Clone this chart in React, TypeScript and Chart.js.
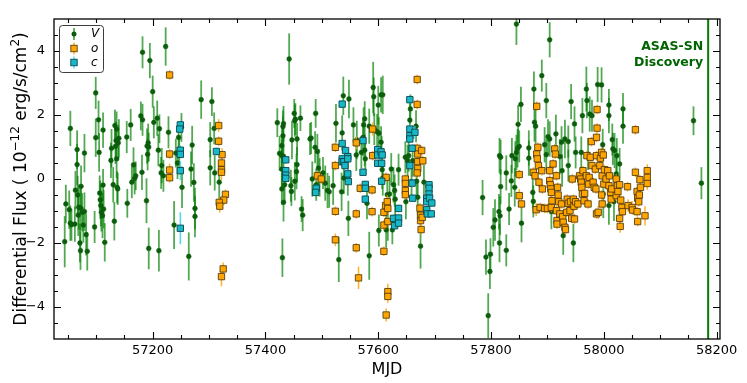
import React, { useEffect, useRef } from "react";
import { Chart, registerables } from "chart.js";

Chart.register(...registerables);

// ---------- V band (ASAS-SN V) ----------
const vMjd = [
  57046, 57044, 57054, 57052, 57054, 57056, 57062, 57063, 57066, 57066,
  57067, 57068, 57069, 57071, 57072, 57073, 57072, 57075, 57077, 57079,
  57079, 57082, 57084, 57097, 57099, 57099, 57104, 57105, 57106, 57107,
  57108, 57109, 57111, 57112, 57112, 57113, 57115, 57126, 57127, 57130,
  57132, 57133, 57134, 57135, 57136, 57136, 57137, 57138, 57139, 57140,
  57154, 57155, 57161, 57163, 57166, 57168, 57170, 57181, 57179, 57182,
  57182, 57190, 57191, 57192, 57193, 57189, 57193, 57195, 57200, 57202,
  57208, 57210, 57211, 57212, 57215, 57216, 57219, 57223, 57228, 57238,
  57241, 57244, 57246, 57247, 57251, 57252, 57264,
  57268, 57270, 57273, 57275, 57275, 57286, 57305, 57302, 57302, 57309,
  57310, 57318, 57421, 57425, 57429, 57429, 57429, 57429, 57430, 57431,
  57431, 57432, 57432, 57432, 57434, 57442, 57445, 57446, 57447, 57451,
  57452, 57452, 57453, 57455, 57456, 57456, 57462, 57464, 57466, 57479,
  57481, 57483, 57488, 57489, 57490, 57492, 57494, 57496, 57502, 57506,
  57510,
  57513, 57520, 57525, 57530, 57535, 57536, 57538, 57539, 57546, 57548,
  57547, 57556, 57561, 57562, 57570, 57573, 57574, 57576, 57576, 57577,
  57580, 57584, 57584, 57591, 57592, 57593, 57598, 57600, 57601, 57601,
  57605, 57605, 57606, 57607, 57608, 57608, 57614, 57616, 57617, 57620,
  57623, 57625, 57627, 57629, 57630, 57636, 57648, 57649, 57652, 57654,
  57656, 57657, 57659, 57661, 57667, 57668, 57670, 57675, 57681,
  57785, 57791, 57795, 57798, 57799, 57804, 57807, 57814, 57815, 57815,
  57816, 57817, 57817, 57827, 57827, 57832, 57836, 57837, 57842, 57843,
  57845, 57845, 57847, 57848, 57850, 57853, 57854, 57867, 57867, 57874,
  57875, 57876, 57877, 57879, 57890, 57895, 57898, 57898, 57901, 57904,
  57904, 57907, 57915, 57922, 57925, 57926, 57928, 57931, 57937, 57937,
  57942, 57946, 57948, 57950, 57960, 57962, 57969, 57970, 57972, 57975,
  57979, 57989,
  57996, 57998, 57999, 58009, 58009, 58009, 58015, 58016, 58018, 58019,
  58022, 58023, 58028, 58034, 58034, 58159, 58173,
];
const vFlux = [
  -0.78, -1.96, 1.58, -0.96, -1.38, -1.43, -1.41, -0.35, 0.45, 0.92,
  -0.5, -1.13, -0.88, -2.0, -2.24, -0.23, -0.91, -1.04, -1.44, 0.81,
  -1.02, -1.74, -2.26, -1.5, 2.69, 1.29, 1.85, 0.83, -0.44, -0.65,
  -0.83, -1.04, -1.15, 1.53, -0.19, -0.94, -1.98, 0.58, 0.96, -0.18,
  -1.32, 1.67, 1.02, 1.2, 1.56, 0.63, -0.26, -0.31, 1.13, 1.27,
  1.31, -0.76, 1.69, -0.1, 0.44, 0.02, 0.1, 0.21, 1.97, 3.96,
  1.85, 1.03, 0.77, 1.13, 1.0, -0.68, -2.17, 3.7, 2.73, 1.77,
  1.9, 0.9, -2.24, 1.57, 0.19, 0.42, 0.1, 4.14, 1.46, -1.44,
  0.81, 0.5, 1.3, 0.73, 1.61, -0.26, -2.42,
  0.31, 1.06, -0.11, -0.92, -1.17, 2.48, 2.42, 1.23, 0.35, 1.58,
  0.19, -0.1, 1.76, 0.8, 0.73, -0.31, 1.04, 0.31, -2.46, 1.35,
  1.64, 0.71, 1.73, -0.73, -0.18, 3.75, -0.21, -0.39, 1.22, 2.05,
  -0.07, 1.82, 1.87, 0.23, 1.25, 0.45, 1.9, -0.94, -1.13, 1.25,
  1.28, 0.0, 0.99, 2.05, -0.18, 0.86, 0.34, 0.05, 0.19, -0.13,
  -0.36,
  -0.4, -0.21, 1.74, -2.52, -0.4, 1.44, 2.6, 0.03, 0.03, 2.5,
  -1.23, 1.69, 0.75, 1.22, 0.83, 1.3, 1.69, 1.88, 0.9, 0.63,
  -0.76, 1.65, -2.4, 2.86, 2.57, 1.56, 1.48, 2.31, 1.43, -1.61,
  2.63, 1.15, 0.8, 0.29, 2.63, 0.03, -1.59, -0.49, -1.33, -0.47,
  0.31, -1.59, -0.18, -0.36, -0.63, 0.29, 0.68, -0.71, 0.57, 0.73,
  1.84, 2.19, -0.08, 0.57, 1.65, -0.07, -0.57, -2.1, -0.1,
  -0.58, -2.44, -4.27, -2.89, -2.35, -1.51, -1.28, -1.02, -2.0, 0.73,
  -1.15, -0.24, 0.68, 0.19, -2.23, -0.94, -0.06, 0.73, -0.26, 0.63,
  0.83, 4.84, 0.96, 1.71, 1.02, 2.33, -1.38, 0.97, 0.65, -0.42,
  -0.7, 2.81, 1.77, 1.65, 3.23, 1.07, 2.45, 0.76, 1.32, 1.25,
  4.35, -1.02, 1.41, 0.7, 1.15, 0.26, -1.77, 1.25, 1.17, 0.42,
  2.42, -2.0, 1.72, 0.83, 0.83, 1.98, 2.81, 2.45, 0.78, 2.03,
  1.98, 2.95,
  2.94, 1.07, -0.47, 2.31, 1.98, -0.83, 1.23, 0.94, -0.71, 0.89,
  0.16, 0.73, 0.47, 2.19, 1.65, 1.82, -0.13,
];
const vErr = [
  0.6, 0.8, 0.55, 0.6, 0.55, 0.5, 0.55, 0.6, 0.65, 0.6,
  0.6, 0.65, 0.7, 0.6, 0.6, 0.65, 0.7, 0.6, 0.55, 0.6,
  0.6, 0.65, 0.6, 0.5, 0.5, 0.6, 0.6, 0.6, 0.55, 0.6,
  0.65, 0.6, 0.7, 0.55, 0.5, 0.6, 0.6, 0.55, 0.6, 0.55,
  0.6, 0.5, 0.55, 0.6, 0.55, 0.6, 0.5, 0.5, 0.55, 0.6,
  0.5, 0.45, 0.5, 0.5, 0.55, 0.5, 0.45, 0.55, 0.45, 0.5,
  0.5, 0.55, 0.5, 0.6, 0.45, 0.7, 0.65, 0.55, 0.5, 0.5,
  0.55, 0.5, 0.65, 0.45, 0.5, 0.55, 0.5, 0.6, 0.5, 0.75,
  0.45, 0.5, 0.5, 0.55, 0.45, 0.65, 0.75,
  0.55, 0.6, 0.6, 0.65, 0.65, 0.6, 0.45, 0.55, 0.55, 0.5,
  0.55, 0.6, 0.45, 0.55, 0.5, 0.5, 0.55, 0.6, 0.6, 0.6,
  0.5, 0.6, 0.55, 0.6, 0.55, 0.8, 0.5, 0.45, 0.6, 0.45,
  0.6, 0.5, 0.5, 0.55, 0.5, 0.55, 0.4, 0.4, 0.5, 0.5,
  0.5, 0.55, 0.5, 0.45, 0.5, 0.55, 0.6, 0.6, 0.5, 0.55,
  0.55,
  0.5, 0.6, 0.6, 0.7, 0.6, 0.55, 0.6, 0.5, 0.55, 0.6,
  0.55, 0.55, 0.5, 0.6, 0.5, 0.6, 0.55, 0.55, 0.5, 0.5,
  0.5, 0.55, 0.75, 0.8, 0.6, 0.5, 0.55, 0.6, 0.5, 0.5,
  0.55, 0.5, 0.55, 0.6, 0.6, 0.55, 0.55, 0.6, 0.6, 0.5,
  0.5, 0.45, 0.55, 0.5, 0.5, 0.5, 0.5, 0.55, 0.5, 0.5,
  0.55, 0.45, 0.5, 0.5, 0.5, 0.5, 0.55, 0.7, 0.55,
  0.55, 0.55, 0.7, 0.55, 0.5, 0.6, 0.65, 0.55, 0.6, 0.55,
  0.6, 0.55, 0.55, 0.55, 0.5, 0.5, 0.5, 0.55, 0.6, 0.55,
  0.55, 0.65, 0.6, 0.6, 0.5, 0.55, 0.6, 0.55, 0.55, 0.5,
  0.5, 0.55, 0.6, 0.55, 0.5, 0.55, 0.55, 0.5, 0.55, 0.55,
  0.55, 0.55, 0.6, 0.55, 0.5, 0.5, 0.6, 0.6, 0.5, 0.5,
  0.55, 0.6, 0.55, 0.5, 0.5, 0.55, 0.7, 0.55, 0.5, 0.55,
  0.5, 0.55,
  0.55, 0.5, 0.75, 0.5, 0.55, 0.6, 0.5, 0.5, 0.6, 0.55,
  0.55, 0.55, 0.5, 0.5, 0.55, 0.45, 0.5,
];

// ---------- ATLAS o ----------
const oMjd = [
  57230, 57230, 57230, 57230,
  57317, 57317, 57323, 57322, 57322, 57322, 57329, 57326, 57318, 57319, 57325, 57322,
  57492, 57499,
  57524, 57524, 57524, 57524, 57561, 57561, 57561, 57565, 57568, 57590,
  57590, 57589, 57589, 57610, 57610, 57610, 57613, 57614, 57616, 57617,
  57617, 57617, 57617, 57614, 57648, 57648, 57648, 57648, 57669, 57669,
  57669, 57670, 57670, 57670, 57669, 57677, 57679, 57674, 57675, 57675, 57676, 57678,
  57850, 57850, 57854, 57875, 57878, 57880, 57881, 57881, 57882, 57883,
  57884, 57885, 57887, 57890, 57891, 57895, 57900, 57904, 57904, 57905,
  57906, 57907, 57907, 57908, 57910, 57913, 57914, 57916, 57916, 57917,
  57917, 57918, 57919, 57920, 57922, 57925, 57927, 57928, 57931, 57932,
  57934, 57935, 57937, 57940, 57941, 57943, 57944, 57946, 57947, 57948,
  57950, 57954, 57957, 57959, 57960, 57961, 57962, 57963, 57965, 57966,
  57969, 57970, 57972, 57973, 57974, 57976, 57978, 57979, 57981, 57983,
  57985, 57986, 57987, 57987, 57987, 57988,
  57988, 57990, 57993, 57994, 57996, 57996, 57997, 57997, 57999, 58000,
  58001, 58004, 58007, 58009, 58010, 58012, 58013, 58014, 58022, 58022,
  58024, 58025, 58028, 58028, 58029, 58030, 58032, 58033, 58042, 58043,
  58050, 58051, 58056, 58056, 58059, 58059, 58060, 58060, 58062, 58063,
  58064, 58065, 58073, 58077, 58077, 58077,
];
const oFlux = [
  3.25, 0.78, 0.28, 0.04,
  1.67, 1.18, 0.76, 0.5, 0.29, 0.21, -0.48, -0.66, -0.73, -0.85, -2.81, -3.05,
  0.1, 0.0,
  0.99, 0.42, -1.01, -1.9, 1.13, -1.09, -2.15, -3.09, -0.29, 1.56,
  0.73, -0.34, -1.02, -1.04, -1.44, -2.26, -0.83, 0.05, -0.71, -0.92,
  -1.33, -3.52, -3.67, -4.25, 0.0, -0.14, -0.36, -0.49, 3.11, 2.33,
  0.96, 0.78, 0.54, 0.33, 0.19, 0.89, 0.57, -0.91, -1.13, -1.3, -1.58, -1.2,
  0.14, -0.52, -0.78, 0.21, 0.1, -0.96, 0.78, 2.27, 0.63, 0.99,
  0.42, -0.1, -0.89, 0.26, -0.31, -0.92, -0.92, 0.26, -0.05, -0.18,
  -0.31, -0.42, -0.89, -0.68, 0.47, 0.94, 0.78, 0.1, -0.99, -1.3,
  -1.41, -0.26, -0.5, -0.71, -1.09, -0.78, -1.18, -1.35, -1.51, -1.58,
  -1.04, -0.63, -0.76, -0.99, -0.71, -1.23, 0.0, -0.63, -0.85, -1.25,
  -0.71, -0.78, 0.1, 0.0, -0.1, -0.26, -0.47, 0.26, -0.68, -0.45,
  0.1, 0.73, -0.78, -0.16, 0.05, 0.68, 1.17, 0.42, -0.1, -0.26,
  0.31, -0.31, 0.73, -1.09, 1.3, 2.17,
  1.59, -1.04, 0.42, 0.65, 0.83, -0.5, 0.1, -0.78, 0.75, -0.16,
  0.29, 0.0, 0.26, -0.21, 0.1, -0.42, -0.63, -0.31, 0.0, -0.52,
  -0.21, -0.39, -0.18, -1.23, -1.48, -0.66, -0.89, -1.02, -0.24, -0.83,
  -0.89, -0.97, 1.54, 0.21, -0.39, -1.02, -1.33, -0.6, -0.71, -0.5,
  -0.02, -0.26, -1.15, 0.26, 0.05, -0.14,
];
const oErr = [
  0.15, 0.15, 0.2, 0.15,
  0.2, 0.15, 0.2, 0.35, 0.2, 0.25, 0.15, 0.15, 0.15, 0.2, 0.2, 0.3,
  0.15, 0.15,
  0.15, 0.15, 0.15, 0.2, 0.2, 0.15, 0.15, 0.35, 0.15, 0.2,
  0.15, 0.15, 0.15, 0.15, 0.15, 0.15, 0.15, 0.15, 0.2, 0.2,
  0.15, 0.25, 0.2, 0.2, 0.15, 0.15, 0.15, 0.15, 0.15, 0.15,
  0.15, 0.15, 0.2, 0.2, 0.15, 0.15, 0.15, 0.15, 0.15, 0.15, 0.15, 0.15,
  0.15, 0.2, 0.15, 0.15, 0.15, 0.2, 0.15, 0.15, 0.15, 0.15,
  0.15, 0.15, 0.15, 0.15, 0.15, 0.15, 0.15, 0.15, 0.15, 0.15,
  0.15, 0.15, 0.15, 0.15, 0.15, 0.15, 0.15, 0.15, 0.15, 0.15,
  0.15, 0.15, 0.15, 0.15, 0.15, 0.15, 0.15, 0.15, 0.15, 0.15,
  0.15, 0.15, 0.15, 0.15, 0.15, 0.15, 0.15, 0.15, 0.15, 0.15,
  0.15, 0.15, 0.15, 0.15, 0.15, 0.15, 0.15, 0.15, 0.15, 0.15,
  0.15, 0.15, 0.15, 0.15, 0.15, 0.15, 0.15, 0.15, 0.15, 0.15,
  0.15, 0.15, 0.15, 0.15, 0.15, 0.15,
  0.15, 0.2, 0.15, 0.15, 0.15, 0.15, 0.15, 0.15, 0.15, 0.15,
  0.15, 0.15, 0.15, 0.15, 0.15, 0.15, 0.15, 0.15, 0.15, 0.15,
  0.15, 0.15, 0.15, 0.2, 0.2, 0.15, 0.15, 0.15, 0.15, 0.2,
  0.2, 0.15, 0.15, 0.15, 0.15, 0.15, 0.15, 0.15, 0.15, 0.15,
  0.15, 0.15, 0.3, 0.2, 0.15, 0.2,
];

// ---------- ATLAS c ----------
const cMjd = [
  57249, 57248, 57249, 57249, 57249, 57249,
  57313, 57436, 57436, 57436, 57436, 57490, 57489,
  57536, 57536, 57536, 57536, 57539, 57542, 57541, 57546, 57546, 57546,
  57547, 57573, 57573, 57577, 57577, 57577, 57599, 57599, 57599, 57605,
  57606, 57607, 57606, 57627, 57629, 57636, 57636, 57636, 57656, 57656,
  57656, 57656, 57656, 57660, 57660, 57661, 57665, 57690, 57690, 57690,
  57686, 57686, 57691, 57695, 57686, 57687, 57694,
];
const cFlux = [
  1.69, 1.56, 0.9, 0.77, 0.26, -1.54,
  0.86, 0.6, 0.26, 0.12, 0.02, -0.29, -0.42,
  2.34, 1.11, 0.63, 0.54, 0.54, 0.89, 0.42, 0.7, 0.63, 0.16,
  -0.08, 1.2, 0.21, -0.17, -0.29, -0.63, 0.92, 0.75, 0.49, 0.85,
  0.49, 0.75, -0.07, -1.23, -1.46, -0.92, -1.22, -1.38, 2.48, 1.56,
  1.35, 1.25, 0.42, 0.96, -0.13, -0.6, 1.46, -0.18, -0.29, -0.47,
  -0.6, -0.71, -0.6, -0.75, -0.96, -1.09, -1.09,
];
const cErr = [
  0.12, 0.12, 0.15, 0.12, 0.3, 0.5,
  0.12, 0.12, 0.12, 0.12, 0.12, 0.12, 0.12,
  0.12, 0.12, 0.12, 0.12, 0.12, 0.12, 0.12, 0.12, 0.12, 0.15,
  0.12, 0.12, 0.12, 0.12, 0.12, 0.12, 0.12, 0.12, 0.12, 0.12,
  0.12, 0.12, 0.12, 0.12, 0.12, 0.12, 0.12, 0.12, 0.12, 0.12,
  0.12, 0.12, 0.12, 0.12, 0.12, 0.12, 0.2, 0.12, 0.12, 0.12,
  0.12, 0.12, 0.12, 0.12, 0.12, 0.12, 0.12,
];

// ---------- axes, labels ----------
const xMajorTicks = [57200, 57400, 57600, 57800, 58000, 58200];
const yMajorTicks = [-4, -2, 0, 2, 4];
const xRange = [57025, 58206];
const yRange = [-5, 5];
const discoveryMjd = 58185;
const discoveryText = ["ASAS-SN", "Discovery"];
const legendLabels = ["V", "o", "c"];
const xTitle = "MJD";
const yTitleParts = [
  { t: "Differential Flux ( 10", sup: false },
  { t: "\u221212", sup: true },
  { t: " erg/s/cm", sup: false },
  { t: "2", sup: true },
  { t: ")", sup: false },
];

const FONT = "'DejaVu Sans', 'Liberation Sans', sans-serif";
const V_DOT = "#0b5d0b";
const V_ERR = "rgba(0,128,0,0.68)";
const O_FILL = "#ffa500";
const O_EDGE = "rgba(80,55,10,0.85)";
const O_ERR = "rgba(255,165,0,0.85)";
const C_FILL = "#17b9c6";
const C_EDGE = "rgba(10,70,80,0.9)";
const C_ERR = "rgba(40,215,230,0.85)";
const DISC = "#008000";
const DISC_TEXT = "#006400";

const errorBarPlugin = {
  id: "errorBars",
  beforeDatasetDraw(chart: any, args: any) {
    const ds: any = chart.data.datasets[args.index];
    const errs: number[] | undefined = ds.errs;
    if (!errs) return;
    const { ctx, chartArea } = chart;
    const xs = chart.scales.x;
    const ys = chart.scales.y;
    ctx.save();
    ctx.beginPath();
    ctx.rect(chartArea.left, chartArea.top, chartArea.right - chartArea.left, chartArea.bottom - chartArea.top);
    ctx.clip();
    ctx.strokeStyle = ds.errColor;
    ctx.lineWidth = ds.errWidth;
    ds.data.forEach((p: any, i: number) => {
      const px = xs.getPixelForValue(p.x);
      ctx.beginPath();
      ctx.moveTo(px, ys.getPixelForValue(p.y - errs[i]));
      ctx.lineTo(px, ys.getPixelForValue(p.y + errs[i]));
      ctx.stroke();
    });
    ctx.restore();
  },
};

const decorPlugin = {
  id: "decor",
  beforeDatasetsDraw(chart: any) {
    const { ctx, chartArea } = chart;
    const xs = chart.scales.x;
    const px = xs.getPixelForValue(discoveryMjd);
    ctx.save();
    ctx.strokeStyle = DISC;
    ctx.lineWidth = 2;
    ctx.beginPath();
    ctx.moveTo(px, chartArea.top);
    ctx.lineTo(px, chartArea.bottom);
    ctx.stroke();
    ctx.restore();
  },
  afterDraw(chart: any) {
    const { ctx, chartArea } = chart;
    const xs = chart.scales.x;
    const ys = chart.scales.y;
    const { left, right, top, bottom } = chartArea;
    ctx.save();
    // discovery text
    const dpx = xs.getPixelForValue(discoveryMjd);
    ctx.fillStyle = DISC_TEXT;
    ctx.font = `bold 12.5px ${FONT}`;
    ctx.textAlign = "right";
    ctx.textBaseline = "middle";
    ctx.fillText(discoveryText[0], dpx - 5, top + 28);
    ctx.fillText(discoveryText[1], dpx - 5, top + 44);

    // frame
    ctx.strokeStyle = "#000";
    ctx.lineWidth = 1.3;
    ctx.strokeRect(left, top, right - left, bottom - top);

    // ticks (inward, all sides)
    ctx.lineWidth = 1.1;
    ctx.beginPath();
    for (let v = 57050; v <= xRange[1]; v += 50) {
      if (v < xRange[0]) continue;
      const x = Math.round(xs.getPixelForValue(v)) + 0.5;
      const len = v % 200 === 0 ? 7 : 4;
      ctx.moveTo(x, bottom);
      ctx.lineTo(x, bottom - len);
      ctx.moveTo(x, top);
      ctx.lineTo(x, top + len);
    }
    for (let k = -9; k <= 9; k++) {
      const v = k * 0.5;
      const y = Math.round(ys.getPixelForValue(v)) + 0.5;
      const len = k % 4 === 0 ? 7 : 4;
      ctx.moveTo(left, y);
      ctx.lineTo(left + len, y);
      ctx.moveTo(right, y);
      ctx.lineTo(right - len, y);
    }
    ctx.stroke();

    // legend
    const bx = left + 5, by = top + 6, bw = 44, bh = 47;
    ctx.fillStyle = "rgba(255,255,255,0.85)";
    ctx.strokeStyle = "rgba(40,40,40,0.9)";
    ctx.lineWidth = 1;
    ctx.beginPath();
    (ctx as any).roundRect(bx + 0.5, by + 0.5, bw, bh, 3);
    ctx.fill();
    ctx.stroke();
    const mx = bx + 15;
    const rows = [by + 9, by + 23.5, by + 37.5];
    // V
    ctx.strokeStyle = V_ERR; ctx.lineWidth = 1.8;
    ctx.beginPath(); ctx.moveTo(mx, rows[0] - 6); ctx.lineTo(mx, rows[0] + 6); ctx.stroke();
    ctx.fillStyle = V_DOT;
    ctx.beginPath(); ctx.arc(mx, rows[0], 2.5, 0, Math.PI * 2); ctx.fill();
    // o
    ctx.strokeStyle = O_ERR; ctx.lineWidth = 1.5;
    ctx.beginPath(); ctx.moveTo(mx, rows[1] - 6); ctx.lineTo(mx, rows[1] + 6); ctx.stroke();
    ctx.fillStyle = O_FILL; ctx.strokeStyle = O_EDGE; ctx.lineWidth = 1;
    ctx.fillRect(mx - 3.2, rows[1] - 3.2, 6.4, 6.4); ctx.strokeRect(mx - 3.2, rows[1] - 3.2, 6.4, 6.4);
    // c
    ctx.strokeStyle = C_ERR; ctx.lineWidth = 1.5;
    ctx.beginPath(); ctx.moveTo(mx, rows[2] - 6); ctx.lineTo(mx, rows[2] + 6); ctx.stroke();
    ctx.fillStyle = C_FILL; ctx.strokeStyle = C_EDGE; ctx.lineWidth = 1;
    ctx.fillRect(mx - 3.2, rows[2] - 3.2, 6.4, 6.4); ctx.strokeRect(mx - 3.2, rows[2] - 3.2, 6.4, 6.4);
    ctx.fillStyle = "#000";
    ctx.font = `italic 12px ${FONT}`;
    ctx.textAlign = "left";
    ctx.textBaseline = "middle";
    legendLabels.forEach((l, i) => ctx.fillText(l, bx + 32, rows[i]));

    // x title
    ctx.font = `16px ${FONT}`;
    ctx.textAlign = "center";
    ctx.textBaseline = "middle";
    ctx.fillText(xTitle, (left + right) / 2, 370);

    // y title (rotated, with superscripts)
    const mainF = `17px ${FONT}`;
    const supF = `12px ${FONT}`;
    let total = 0;
    const widths = yTitleParts.map((p) => {
      ctx.font = p.sup ? supF : mainF;
      const w = ctx.measureText(p.t).width;
      total += w;
      return w;
    });
    ctx.translate(26, (top + bottom) / 2);
    ctx.rotate(-Math.PI / 2);
    ctx.textAlign = "left";
    ctx.textBaseline = "alphabetic";
    let cx = -total / 2;
    yTitleParts.forEach((p, i) => {
      ctx.font = p.sup ? supF : mainF;
      ctx.fillText(p.t, cx, p.sup ? -7 : 0);
      cx += widths[i];
    });
    ctx.restore();
  },
};

export default function App() {
  const ref = useRef<HTMLCanvasElement | null>(null);
  useEffect(() => {
    document.body.style.margin = "0";
    const canvas = ref.current;
    if (!canvas) return;
    const toPts = (xs: number[], ys: number[]) => xs.map((x, i) => ({ x, y: ys[i] }));
    const chart = new Chart(canvas, {
      type: "scatter",
      data: {
        datasets: [
          {
            label: legendLabels[2],
            data: toPts(cMjd, cFlux),
            errs: cErr,
            errColor: C_ERR,
            errWidth: 1.5,
            pointStyle: "rect",
            pointRadius: 4.5,
            backgroundColor: C_FILL,
            borderColor: C_EDGE,
            borderWidth: 1,
          } as any,
          {
            label: legendLabels[1],
            data: toPts(oMjd, oFlux),
            errs: oErr,
            errColor: O_ERR,
            errWidth: 1.5,
            pointStyle: "rect",
            pointRadius: 4.5,
            backgroundColor: O_FILL,
            borderColor: O_EDGE,
            borderWidth: 1,
          } as any,
          {
            label: legendLabels[0],
            data: toPts(vMjd, vFlux),
            errs: vErr,
            errColor: V_ERR,
            errWidth: 1.8,
            pointStyle: "circle",
            pointRadius: 2.4,
            backgroundColor: V_DOT,
            borderColor: V_DOT,
            borderWidth: 0.5,
          } as any,
        ],
      },
      options: {
        animation: false,
        responsive: false,
        maintainAspectRatio: false,
        devicePixelRatio: 1,
        events: [],
        layout: { padding: { left: 0, right: 27, top: 19, bottom: 0 } },
        plugins: { legend: { display: false }, tooltip: { enabled: false } },
        scales: {
          x: {
            type: "linear",
            min: xRange[0],
            max: xRange[1],
            grid: { display: false, drawTicks: false },
            border: { display: false },
            afterBuildTicks: (s: any) => {
              s.ticks = xMajorTicks.map((v) => ({ value: v }));
            },
            afterFit: (s: any) => {
              s.height = 44;
            },
            ticks: {
              color: "#000",
              font: { family: FONT, size: 13 },
              padding: 4,
              maxRotation: 0,
              autoSkip: false,
              callback: (v: any) => String(v),
            },
          },
          y: {
            type: "linear",
            min: yRange[0],
            max: yRange[1],
            grid: { display: false, drawTicks: false },
            border: { display: false },
            afterBuildTicks: (s: any) => {
              s.ticks = yMajorTicks.map((v) => ({ value: v }));
            },
            afterFit: (s: any) => {
              s.width = 54;
            },
            ticks: {
              color: "#000",
              font: { family: FONT, size: 13 },
              padding: 9,
              callback: (v: any) => (v < 0 ? "\u2212" + Math.abs(v) : String(v)),
            },
          },
        },
      } as any,
      plugins: [errorBarPlugin, decorPlugin],
    });
    return () => chart.destroy();
  }, []);
  return (
    <canvas
      ref={ref}
      width={747}
      height={383}
      style={{ display: "block", position: "absolute", left: 0, top: 0, width: 747, height: 383 }}
    />
  );
}
